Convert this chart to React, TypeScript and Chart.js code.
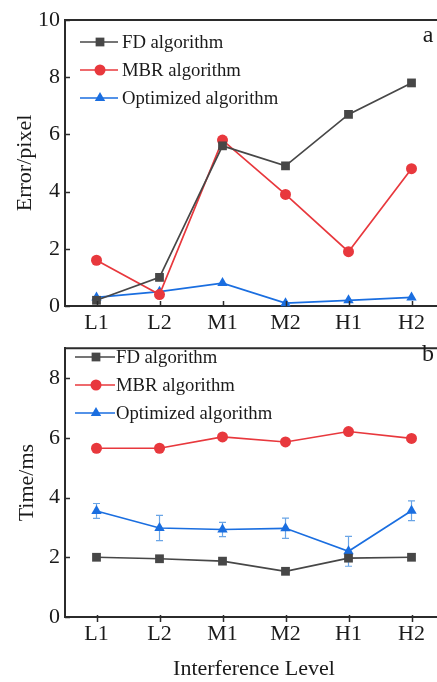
import React, { useEffect, useRef } from 'react';
import { Chart, registerables } from 'chart.js';
Chart.register(...registerables);

const categories = ['L1', 'L2', 'M1', 'M2', 'H1', 'H2'];
const seriesNames = ['FD algorithm', 'MBR algorithm', 'Optimized algorithm'];
const errorFD = [0.2, 1.0, 5.6, 4.9, 6.7, 7.8];
const errorMBR = [1.6, 0.4, 5.8, 3.9, 1.9, 4.8];
const errorOpt = [0.3, 0.5, 0.8, 0.1, 0.2, 0.3];
const timeFD = [2.0, 1.95, 1.87, 1.53, 1.97, 2.0];
const timeMBR = [5.65, 5.65, 6.03, 5.86, 6.21, 5.98];
const timeOpt = [3.55, 2.98, 2.93, 2.97, 2.2, 3.56];
const timeOptErr = [0.25, 0.42, 0.24, 0.34, 0.5, 0.33];
const errorTicksMax = 10;
const timeTicksMax = 9;

const FONT = "'Liberation Serif', 'Times New Roman', serif";
const COLORS = ['#474747', '#e8383d', '#1a6ee0'];
const STYLES = ['rect', 'circle', 'triangle'];
const RADII = [6.2, 5.5, 6];
const ERR_COLOR = '#6aa5e6';
const AXIS = '#2b2b2b';
const TEXT = '#1a1a1a';
const W = 460;

function drawMarker(ctx: CanvasRenderingContext2D, style: string, x: number, y: number, r: number, color: string) {
  ctx.save();
  ctx.fillStyle = color;
  ctx.beginPath();
  if (style === 'rect') {
    const s = r * Math.SQRT1_2;
    ctx.rect(x - s, y - s, 2 * s, 2 * s);
  } else if (style === 'circle') {
    ctx.arc(x, y, r, 0, Math.PI * 2);
  } else {
    const h = r * 1.5;
    const hw = r * Math.sqrt(3) / 2;
    ctx.moveTo(x, y - r);
    ctx.lineTo(x + hw, y - r + h);
    ctx.lineTo(x - hw, y - r + h);
    ctx.closePath();
  }
  ctx.fill();
  ctx.restore();
}

function makeDatasets(values: number[][]) {
  return values.map((v, i) => ({
    label: seriesNames[i],
    data: v,
    borderColor: COLORS[i],
    backgroundColor: COLORS[i],
    pointBackgroundColor: COLORS[i],
    pointBorderColor: COLORS[i],
    pointStyle: STYLES[i],
    pointRadius: RADII[i],
    pointBorderWidth: 0,
    borderWidth: 1.7,
    tension: 0,
    clip: false as any,
  }));
}

function framePlugin(xTickOut: number, xTickIn: number) {
  return {
    id: 'frame',
    afterDraw(chart: any) {
      const { ctx, chartArea } = chart;
      const { left, right, top, bottom } = chartArea;
      ctx.save();
      ctx.strokeStyle = AXIS;
      ctx.lineWidth = 2;
      ctx.beginPath();
      ctx.moveTo(left, top);
      ctx.lineTo(right, top);
      ctx.lineTo(right, bottom);
      ctx.stroke();
      ctx.lineWidth = 1.5;
      const ys = chart.scales.y;
      ys.ticks.forEach((t: any) => {
        const py = Math.round(ys.getPixelForValue(t.value)) + 0.5;
        ctx.beginPath();
        ctx.moveTo(left, py);
        ctx.lineTo(left + 5, py);
        ctx.stroke();
      });
      const xs = chart.scales.x;
      categories.forEach((_, i) => {
        const px = Math.round(xs.getPixelForValue(i)) + 0.5;
        ctx.beginPath();
        ctx.moveTo(px, bottom - xTickIn);
        ctx.lineTo(px, bottom + xTickOut);
        ctx.stroke();
      });
      ctx.restore();
    },
  };
}

function legendPlugin(rowsY: number[], x0: number, x1: number, mx: number, tx: number, size: number, label: string, lx: number, ly: number) {
  return {
    id: 'customLegend',
    afterDraw(chart: any) {
      const { ctx } = chart;
      ctx.save();
      seriesNames.forEach((name, i) => {
        const y = rowsY[i];
        ctx.strokeStyle = COLORS[i];
        ctx.lineWidth = 1.7;
        ctx.beginPath();
        ctx.moveTo(x0, y);
        ctx.lineTo(x1, y);
        ctx.stroke();
        drawMarker(ctx, STYLES[i], mx, y, RADII[i], COLORS[i]);
        ctx.fillStyle = TEXT;
        ctx.font = `${size}px ${FONT}`;
        ctx.textBaseline = 'middle';
        ctx.textAlign = 'left';
        ctx.fillText(name, tx, y + 1);
      });
      ctx.font = `24px ${FONT}`;
      ctx.textAlign = 'center';
      ctx.fillText(label, lx, ly);
      ctx.restore();
    },
  };
}

const errorBarPlugin = {
  id: 'errorBars',
  beforeDatasetsDraw(chart: any) {
    const { ctx } = chart;
    const xs = chart.scales.x;
    const ys = chart.scales.y;
    ctx.save();
    ctx.strokeStyle = ERR_COLOR;
    ctx.lineWidth = 1.2;
    timeOpt.forEach((v, i) => {
      const x = xs.getPixelForValue(i);
      const yt = ys.getPixelForValue(v + timeOptErr[i]);
      const yb = ys.getPixelForValue(v - timeOptErr[i]);
      ctx.beginPath();
      ctx.moveTo(x, yt);
      ctx.lineTo(x, yb);
      ctx.moveTo(x - 3.5, yt);
      ctx.lineTo(x + 3.5, yt);
      ctx.moveTo(x - 3.5, yb);
      ctx.lineTo(x + 3.5, yb);
      ctx.stroke();
    });
    ctx.restore();
  },
};

function makeOptions(opts: { max: number; yTitle: string; xTitle: boolean; padTop: number; xHeight: number; yTitlePad: number }) {
  return {
    responsive: false,
    animation: false as const,
    layout: { padding: { top: opts.padTop, right: W - 443, left: 0, bottom: 0 } },
    plugins: { legend: { display: false }, tooltip: { enabled: false } },
    scales: {
      x: {
        type: 'category' as const,
        offset: true,
        grid: { display: false, drawTicks: false },
        border: { display: true, color: AXIS, width: 2 },
        ticks: { font: { family: FONT, size: 22 }, color: TEXT, padding: 4, maxRotation: 0, autoSkip: false },
        title: {
          display: opts.xTitle,
          text: 'Interference Level',
          font: { family: FONT, size: 22 },
          color: TEXT,
          padding: { top: 0, bottom: 0 },
        },
        afterFit: (s: any) => { s.height = opts.xHeight; },
      },
      y: {
        min: 0,
        max: opts.max,
        grid: { display: false, drawTicks: false },
        border: { display: true, color: AXIS, width: 2 },
        ticks: { stepSize: 2, includeBounds: false, font: { family: FONT, size: 22 }, color: TEXT, padding: 5 },
        title: {
          display: true,
          text: opts.yTitle,
          font: { family: FONT, size: 22 },
          color: TEXT,
          padding: { top: opts.yTitlePad, bottom: 0 },
        },
        afterFit: (s: any) => { s.width = 65; },
      },
    },
  };
}

export default function App() {
  const topRef = useRef<HTMLCanvasElement>(null);
  const botRef = useRef<HTMLCanvasElement>(null);

  useEffect(() => {
    const top = new Chart(topRef.current!, {
      type: 'line',
      data: { labels: categories, datasets: makeDatasets([errorFD, errorMBR, errorOpt]) as any },
      options: makeOptions({ max: errorTicksMax, yTitle: 'Error/pixel', xTitle: false, padTop: 20, xHeight: 34, yTitlePad: 12 }) as any,
      plugins: [framePlugin(0, 5), legendPlugin([42, 70, 98], 80, 118, 100, 122, 18.7, 'a', 428, 36)],
    });
    const bot = new Chart(botRef.current!, {
      type: 'line',
      data: { labels: categories, datasets: makeDatasets([timeFD, timeMBR, timeOpt]) as any },
      options: makeOptions({ max: timeTicksMax, yTitle: 'Time/ms', xTitle: true, padTop: 9, xHeight: 65, yTitlePad: 14 }) as any,
      plugins: [errorBarPlugin, framePlugin(5, 2), legendPlugin([27, 55, 83], 75, 115, 96, 116, 18.7, 'b', 428, 25)],
    });
    return () => { top.destroy(); bot.destroy(); };
  }, []);

  return (
    <div style={{ position: 'absolute', left: 0, top: 0, width: 437, height: 682, overflow: 'hidden', background: '#fff' }}>
      <canvas ref={topRef} width={W} height={340} style={{ position: 'absolute', left: 0, top: 0, width: W, height: 340 }} />
      <canvas ref={botRef} width={W} height={352} style={{ position: 'absolute', left: 0, top: 330, width: W, height: 352 }} />
    </div>
  );
}
